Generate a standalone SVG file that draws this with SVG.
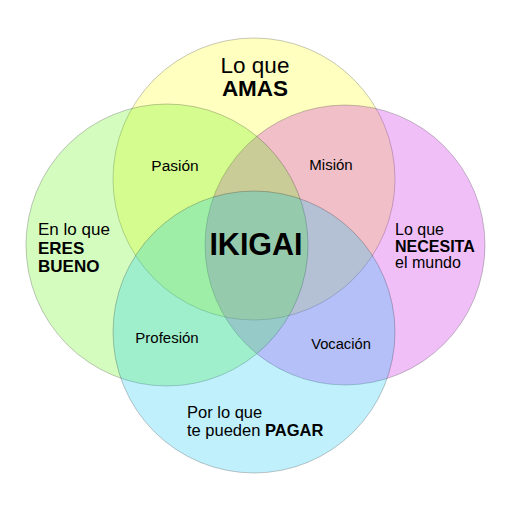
<svg xmlns="http://www.w3.org/2000/svg" width="512" height="512" viewBox="0 0 512 512">
<style>
.c{fill-opacity:0.25;stroke:#000;stroke-opacity:0.22;stroke-width:1}
text{font-family:"Liberation Sans",Arial,sans-serif;fill:#000}
.b{font-weight:bold}
.m{text-anchor:middle}
</style>
<rect width="512" height="512" fill="#fff"/>
<g id="amas"><circle class="c" cx="254" cy="179" r="141" fill="#ffff00"/></g>
<g id="necesita"><circle class="c" cx="345" cy="245" r="140" fill="#c300e3"/></g>
<g id="eres-bueno"><circle class="c" cx="167" cy="245" r="141" fill="#53f300"/></g>
<g id="pagar"><circle class="c" cx="254" cy="332" r="141" fill="#00c3f3"/></g>
<g id="labels">
<text class="m" x="255" y="73" font-size="22.5">Lo que</text>
<text class="m b" x="255" y="96" font-size="22.5">AMAS</text>
<text x="38" y="235" font-size="17">En lo que</text>
<text class="b" x="38" y="253.5" font-size="17">ERES</text>
<text class="b" x="38" y="272" font-size="17">BUENO</text>
<text x="395" y="235" font-size="16">Lo que</text>
<text class="b" x="395" y="251.5" font-size="16">NECESITA</text>
<text x="395" y="268" font-size="16">el mundo</text>
<text x="187" y="418" font-size="16.5">Por lo que</text>
<text x="187" y="436" font-size="16.5">te pueden <tspan class="b">PAGAR</tspan></text>
<text class="m" x="175" y="171" font-size="15.5">Pasión</text>
<text class="m" x="331" y="170" font-size="15">Misión</text>
<text class="m" x="167" y="343" font-size="15">Profesión</text>
<text class="m" x="341" y="349" font-size="14.7">Vocación</text>
<text class="m b" x="256" y="255" font-size="30.5">IKIGAI</text>
</g>
</svg>
